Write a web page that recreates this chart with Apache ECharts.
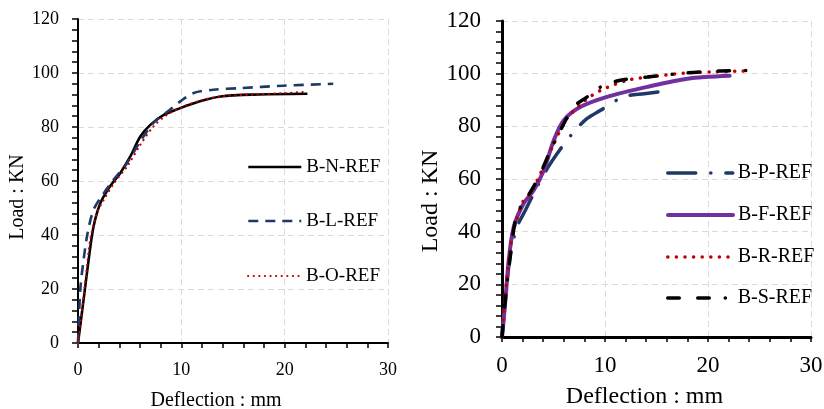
<!DOCTYPE html>
<html>
<head>
<meta charset="utf-8">
<script src="https://cdn.jsdelivr.net/npm/echarts@6/dist/echarts.min.js"></script>
<style>
html,body{margin:0;padding:0;background:#fff;}
#chart{width:824px;height:409px;}
</style>
</head>
<body>
<div id="chart"></div>
<script>
// ---- Data ----
const xTicks = [0, 10, 20, 30];
const yTicks = [0, 20, 40, 60, 80, 100, 120];

// Left panel
const BN_defl = [0, 0.54, 1.03, 1.51, 2.16, 3.1, 4.1, 5.05, 6.03, 7.0, 8.3, 9.9, 11.8, 13.8, 17, 22.2];
const BN_load = [0, 16, 30.8, 43.2, 51.8, 58, 63, 69, 76.5, 80.8, 84.5, 87, 89.5, 91.3, 92, 92.3];
const BL_defl = [0, 0.22, 0.54, 0.93, 1.51, 2.5, 3.45, 4.75, 6.03, 7.3, 8.9, 9.9, 11.2, 13.1, 15.7, 19.9, 24.7];
const BL_load = [0, 19.7, 30.8, 40.7, 49.4, 55.5, 60.5, 66.7, 74.7, 81.5, 86.4, 89.5, 92.6, 93.8, 94.4, 95.3, 96];
const BO_defl = [0, 0.39, 0.8, 1.19, 1.84, 2.5, 3.6, 4.75, 6.03, 7.3, 8.6, 10.2, 12.2, 13.8, 17, 20.2, 22];
const BO_load = [0, 12.3, 25.9, 38.3, 48.1, 53.1, 59.8, 65.4, 73.4, 80.2, 84.5, 87.6, 90.1, 91.3, 92, 92.6, 93];

// Right panel
const BP_defl = [0, 0.33, 0.82, 1.46, 2.27, 3.4, 4.4, 5.36, 6.97, 8.27, 9.57, 11.8, 13.8, 16.5];
const BP_load = [0, 14, 31.6, 41.8, 48.1, 57, 64, 69.7, 77.9, 83, 86.1, 91.2, 92.4, 93.7];
const BF_defl = [0, 0.33, 0.65, 1.14, 2.1, 3.08, 4.06, 5.03, 6.0, 7.63, 10.2, 14.1, 18, 22.1];
const BF_load = [0, 13.9, 29.1, 41.8, 50.7, 55.7, 63.3, 74.7, 82.3, 87.4, 91.2, 95, 98.1, 99.2];
const BR_defl = [0, 0.16, 0.43, 0.82, 1.3, 2.1, 2.75, 3.88, 5.03, 6.3, 8.1, 9.6, 12.2, 14.8, 18, 20.6, 23.8];
const BR_load = [0, 10.1, 20.3, 34.2, 43, 51.9, 54.4, 63.3, 73.4, 83, 89.9, 93.7, 97.5, 99, 100.3, 100.7, 101];
const BS_defl = [0, 0.16, 0.49, 0.88, 1.3, 1.97, 2.75, 3.72, 4.7, 5.67, 6.97, 8.27, 9.6, 11.5, 14.1, 18, 21.2, 24.8];
const BS_load = [0, 7.6, 20.3, 32.9, 44.3, 50.7, 55, 62, 70.9, 78.5, 87.4, 91.2, 95, 97.5, 98.7, 100.3, 101, 101.3];

const xTitle = 'Deflection : mm';
const yTitle = 'Load : KN';

// ---- Build ----
const FONT = 'Liberation Serif';
const zip = (a, b) => a.map((v, i) => [v, b[i]]);

function xAxisCfg(gi, fs, tfs, lw, shift, gap, margin) {
  return {
    type: 'value', gridIndex: gi, min: xTicks[0], max: xTicks[xTicks.length - 1],
    interval: xTicks[1] - xTicks[0],
    name: xTitle, nameLocation: 'middle', nameGap: gap,
    nameTextStyle: { fontFamily: FONT, fontSize: tfs, color: '#000', padding: [0, shift * 2, 0, 0] },
    axisLine: { show: true, onZero: false, lineStyle: { color: '#000', width: lw } },
    axisTick: { show: true, inside: false, length: 5, lineStyle: { color: '#000', width: 1.5 } },
    minorTick: { show: true, splitNumber: 5, length: 5, lineStyle: { color: '#000', width: 1.5 } },
    axisLabel: { fontFamily: FONT, fontSize: fs, color: '#000', margin },
    splitLine: { show: true, lineStyle: { color: '#d9d9d9', type: [6, 4], width: 1 } }
  };
}
function yAxisCfg(gi, fs, tfs, lw, shift, gap, margin) {
  return {
    type: 'value', gridIndex: gi, min: yTicks[0], max: yTicks[yTicks.length - 1],
    interval: yTicks[1] - yTicks[0],
    name: yTitle, nameLocation: 'middle', nameGap: gap,
    nameTextStyle: { fontFamily: FONT, fontSize: tfs, color: '#000', padding: [0, shift * 2, 0, 0] },
    axisLine: { show: true, onZero: false, lineStyle: { color: '#000', width: lw } },
    axisTick: { show: true, inside: false, length: 6, lineStyle: { color: '#000', width: 1.5 } },
    minorTick: { show: true, splitNumber: 5, length: 6, lineStyle: { color: '#000', width: 1.5 } },
    axisLabel: { fontFamily: FONT, fontSize: fs, color: '#000', margin },
    splitLine: { show: true, lineStyle: { color: '#d9d9d9', type: [6, 4], width: 1 } }
  };
}
function line(name, gi, xs, ys, color, width, type, cap) {
  return {
    name, type: 'line', xAxisIndex: gi, yAxisIndex: gi, data: zip(xs, ys),
    smooth: 0.3, showSymbol: false, symbol: 'none', z: 3,
    lineStyle: { color, width, type, cap: cap || 'butt' },
    itemStyle: { color }
  };
}
function legendFor(name, left, cy, w, fs, lw) {
  return {
    data: [name], left, top: cy - 11, orient: 'vertical', padding: 0,
    itemWidth: w, itemHeight: 14, selectedMode: false,
    itemStyle: { opacity: 0, borderWidth: 0 },
    lineStyle: { width: lw },
    textStyle: { fontFamily: FONT, fontSize: fs, color: '#000', lineHeight: 22 }
  };
}

const option = {
  animation: false,
  backgroundColor: '#fff',
  textStyle: { fontFamily: FONT },
  grid: [
    { left: 78, top: 19, width: 310, height: 324, containLabel: false, outerBoundsMode: 'none' },
    { left: 502, top: 21, width: 309, height: 316, containLabel: false, outerBoundsMode: 'none' }
  ],
  xAxis: [xAxisCfg(0, 18, 20, 2, 17, 48, 18), xAxisCfg(1, 23, 24, 3, 12, 48, 17)],
  yAxis: [yAxisCfg(0, 18, 20, 2, 16, 48, 19), yAxisCfg(1, 23, 24, 3, 22, 58, 21)],
  legend: [
    legendFor('B-N-REF', 247, 167, 53, 19, 2.6),
    legendFor('B-L-REF', 247, 221, 53, 19, 2.6),
    legendFor('B-O-REF', 247, 276, 53, 19, 2.2),
    legendFor('B-P-REF', 666, 173, 65, 20, 3.5),
    legendFor('B-F-REF', 666, 215, 65, 20, 4),
    legendFor('B-R-REF', 666, 257, 65, 20, 3.5),
    legendFor('B-S-REF', 666, 298, 65, 20, 3.5)
  ],
  series: [
    line('B-N-REF', 0, BN_defl, BN_load, '#000000', 2.6, 'solid'),
    line('B-L-REF', 0, BL_defl, BL_load, '#1F3864', 2.6, [10, 7]),
    line('B-O-REF', 0, BO_defl, BO_load, '#C00000', 2.2, [0.1, 5.5], 'round'),
    line('B-P-REF', 1, BP_defl, BP_load, '#1F3864', 3.5, [28, 15, 0.1, 15], 'round'),
    line('B-F-REF', 1, BF_defl, BF_load, '#7030A0', 4, 'solid', 'round'),
    line('B-R-REF', 1, BR_defl, BR_load, '#C00000', 3.5, [0.1, 8.5], 'round'),
    line('B-S-REF', 1, BS_defl, BS_load, '#000000', 3.5, [11.5, 18.5, 11.5, 16, 0.1, 16], 'round')
  ]
};

const chart = echarts.init(document.getElementById('chart'), null, { renderer: 'canvas' });
chart.setOption(option);
</script>
</body>
</html>
